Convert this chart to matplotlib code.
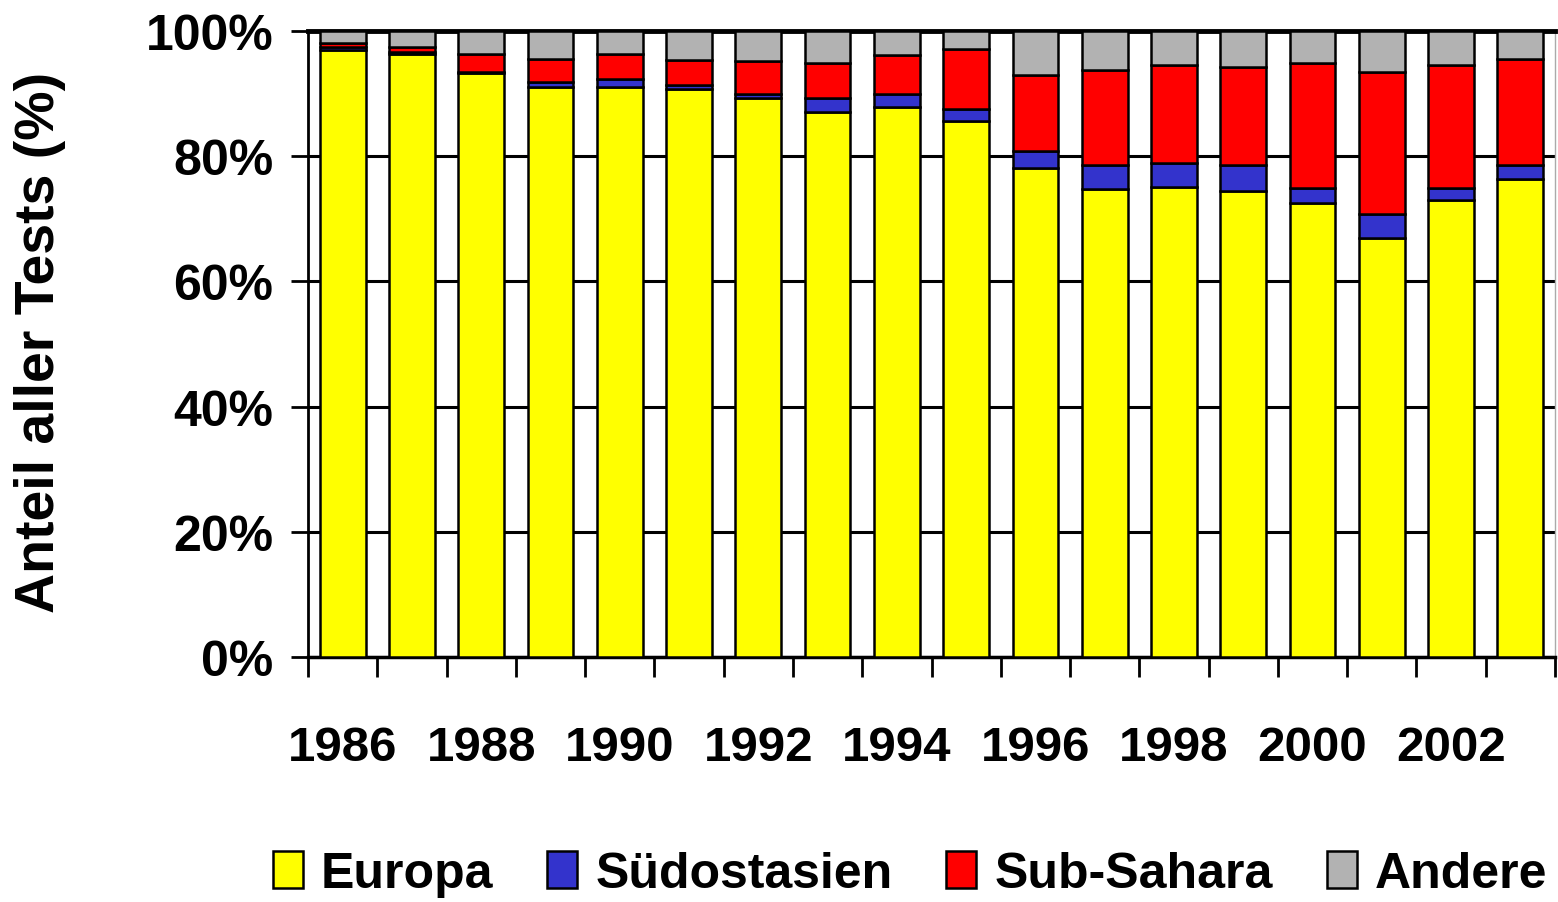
import matplotlib
matplotlib.use("Agg")
import matplotlib.pyplot as plt
from matplotlib.patches import Patch
import numpy as np

plt.rcParams['font.family'] = ['Liberation Sans', 'DejaVu Sans']
plt.rcParams['font.weight'] = 'bold'

years = list(range(1986, 2004))
europa = [97.0, 96.3, 93.3, 91.1, 91.1, 90.7, 89.3, 87.1, 87.8, 85.6,
          78.1, 74.8, 75.1, 74.4, 72.6, 67.0, 73.0, 76.3]
suedostasien = [0.4, 0.4, 0.1, 0.8, 1.2, 0.6, 0.7, 2.2, 2.2, 1.9,
                2.7, 3.8, 3.8, 4.2, 2.3, 3.8, 1.9, 2.3]
subsahara = [0.7, 0.7, 3.0, 3.7, 4.1, 4.0, 5.2, 5.6, 6.1, 9.6,
             12.2, 15.2, 15.6, 15.6, 20.0, 22.6, 19.6, 17.0]
andere = [100 - a - b - c for a, b, c in zip(europa, suedostasien, subsahara)]

labels = ["Europa", "Südostasien", "Sub-Sahara", "Andere"]
colors = ["#FFFF00", "#3333CC", "#FF0000", "#B2B2B2"]
series = [europa, suedostasien, subsahara, andere]

fig = plt.figure(figsize=(15.58, 9.03), dpi=100)
ax = fig.add_axes([308/1558, 1-658/903, (1555-308)/1558, (658-32)/903])

x = np.arange(len(years))
bottom = np.zeros(len(years))
for vals, col in zip(series, colors):
    ax.bar(x, vals, bottom=bottom, width=0.66, color=col, edgecolor='black',
           linewidth=1.8, zorder=3)
    bottom += np.array(vals)

ax.set_xlim(-0.5, len(years) - 0.5)
ax.set_ylim(0, 100)
ax.set_yticks(np.arange(0, 101, 20))
ax.set_yticklabels([f"{v}%" for v in range(0, 101, 20)], fontsize=36, fontweight='bold')
ax.yaxis.grid(True, color='black', linewidth=2.2, zorder=1)
ax.set_axisbelow(True)

ax.set_xticks(np.arange(-0.5, len(years), 1))
ax.set_xticklabels([])
ax.set_xticks(x[::2], minor=True)
ax.set_xticklabels([str(y) for y in years[::2]], minor=True, fontsize=35.5, fontweight='bold')
ax.tick_params(axis='x', which='major', length=14.5, width=2, direction='out')
ax.tick_params(axis='x', which='minor', length=0, pad=49)
ax.tick_params(axis='y', length=12, width=2, pad=13)

ax.spines['right'].set_color('#AAAAAA')
ax.spines['right'].set_linewidth(1)
ax.spines['top'].set_linewidth(3.5)
ax.spines['left'].set_linewidth(2)
ax.spines['bottom'].set_linewidth(2.5)

fig.text(40/1558, 1-342/903, "Anteil aller Tests (%)", rotation=90, ha='center',
         va='center', fontsize=40, fontweight='bold')

handles = [Patch(facecolor=c, edgecolor='black', linewidth=1.8) for c in colors]
fig.legend(handles, labels, loc='center', bbox_to_anchor=(910/1558, 1-875/903), ncol=4,
           frameon=False, prop={'size': 36, 'weight': 'bold'},
           handlelength=0.6, handleheight=0.75, handletextpad=0.36, columnspacing=1.08,
           borderpad=0, borderaxespad=0)

fig.savefig("out.png", dpi=100)
